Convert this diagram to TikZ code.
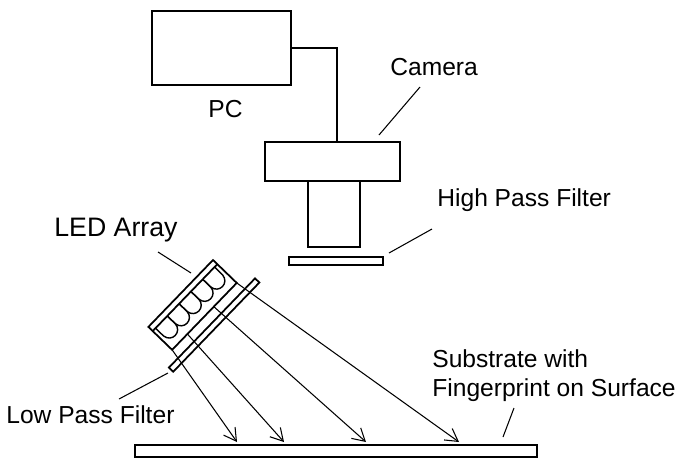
\documentclass[tikz,border=0pt]{standalone}
\usepackage{fontspec}
\setmainfont{Liberation Sans}
\usetikzlibrary{arrows.meta}
\tikzset{>={Straight Barb[length=7pt,width=8pt]},every node/.style={font=\fontsize{14}{16}\selectfont},
part/.style 2 args={draw,line width=1pt,minimum width=#1*.02cm,minimum height=#2*.02cm,inner sep=0pt,outer sep=0pt},
wire/.style={line width=1pt},ray/.style={line width=.6pt,->},lead/.style={line width=.6pt},
label/.style={inner sep=0pt,anchor=base west}}

\begin{document}
\begin{tikzpicture}[x=.02cm,y=-.02cm]
\useasboundingbox (0,0) rectangle (677,458);
% Camera side, then the PC behind it.
\node[part={139}{74}] (pc) at (221.5,48) {};
\node[part={135}{39}] (camera) at (332.5,161.5) {};
\node[part={52}{66}] (lens) at (334,214) {};
\node[part={94}{8}] (hpf) at (336,261) {};
\node[part={402}{12}] (substrate) at (336,451) {};
\coordinate (bend) at (337,48);
\draw[wire] (pc.east)--(bend)--(bend|-camera.north);
% LED array, drawn along its own axes.
\begin{scope}[shift={(213,260)},rotate=-44]
\draw[wire] (0,0) rectangle (33,93);
\draw[wire] (6,0)--(6,93);
\foreach \y in {4,21,38,55,72}{
\draw[line width=.8pt] (6,\y)--(17,\y) .. controls (28,\y+1) and (28,\y+16) .. (17,\y+17)--(6,\y+17);}
\draw[wire] (43,-16) rectangle (49,108);
\coordinate (ledA) at (33,93);
\coordinate (ledB) at (33,71);
\coordinate (ledC) at (33,33);
\coordinate (ledD) at (33,0);
\end{scope}
\coordinate (spotA) at (237,442);
\coordinate (spotB) at (284,442);
\coordinate (spotC) at (366,442);
\coordinate (spotD) at (459,442);
\foreach \s in {A,B,C,D}{
\draw[ray] (led\s)--(spot\s);}
% Labels and their leaders.
\node[label] (pclabel) at (208,117) {PC};
\node[label] (camlabel) at (390,75) {Camera};
\node[label] (hpflabel) at (437,206) {High Pass Filter};
\node[label,font=\fontsize{15.2}{17}\selectfont] (ledlabel) at (54,236) {LED Array};
\node[label] (lpflabel) at (6,423) {Low Pass Filter};
\node[label] (sublabel) at (432,367) {Substrate with};
\node[label] (fplabel) at (432,396) {Fingerprint on Surface};
\coordinate (camtip) at (379,135);
\coordinate (camfar) at (420,87);
\coordinate (hpftip) at (389,253);
\coordinate (hpffar) at (432,229);
\coordinate (ledtip) at (191,273);
\coordinate (ledfar) at (158,252);
\coordinate (lpftip) at (168,373);
\coordinate (lpffar) at (119,399);
\coordinate (subtip) at (503,437);
\coordinate (subfar) at (514,408);
\draw[lead] (camtip)--(camfar);
\draw[lead] (hpftip)--(hpffar);
\draw[lead] (ledtip)--(ledfar);
\draw[lead] (lpftip)--(lpffar);
\draw[lead] (subtip)--(subfar);
\end{tikzpicture}
\end{document}
